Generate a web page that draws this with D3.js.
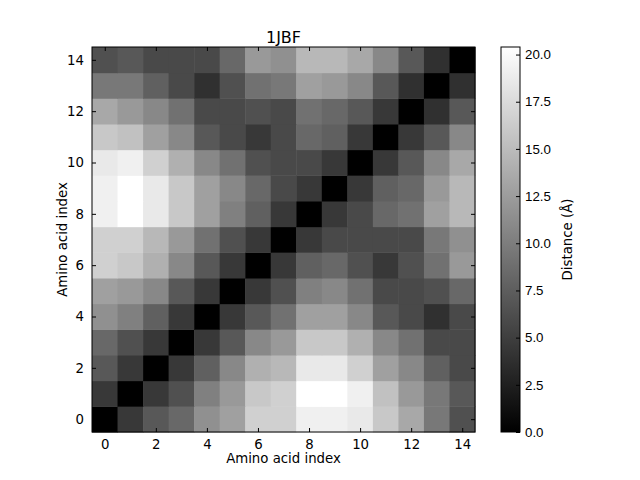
<!DOCTYPE html>
<html><head><meta charset="utf-8">
<script src="https://cdn.jsdelivr.net/npm/d3@7"></script>
<style>body{margin:0;background:#fff}svg{font-family:"DejaVu Sans",sans-serif}</style>
</head><body>
<svg id="c" width="640" height="480"></svg>
<script>
const title = "1JBF";
const indices = d3.range(15);
const xTicks = [0,2,4,6,8,10,12,14];
const yTicks = [0,2,4,6,8,10,12,14];
const cbTicks = [0,2.5,5,7.5,10,12.5,15,17.5,20];
const distMatrix = [
[0,4.5,7.0,8.3,11.5,12.8,16.6,16.6,19.2,19.2,18.6,16.0,13.4,9.6,6.4],
[4.5,0,4.5,6.4,10.2,12.2,16.0,16.6,20.4,20.4,19.2,15.4,12.2,9.6,7.0],
[7.0,4.5,0,4.5,7.7,10.9,14.1,14.7,18.6,18.6,16.6,12.8,10.9,7.7,5.8],
[8.3,6.4,4.5,0,4.5,7.0,10.9,12.2,16.0,16.0,14.1,10.9,9.0,5.8,5.8],
[11.5,10.2,7.7,4.5,0,4.5,7.0,9.0,12.8,12.8,10.9,7.0,5.8,3.8,5.8],
[12.8,12.2,10.9,7.0,4.5,0,4.5,6.4,10.2,10.9,9.0,5.8,5.8,6.4,8.3],
[16.6,16.0,14.1,10.9,7.0,4.5,0,4.5,7.7,8.3,6.4,4.5,6.4,9.0,12.2],
[16.6,16.6,14.7,12.2,9.0,6.4,4.5,0,4.5,5.8,5.8,5.8,5.8,9.6,11.5],
[19.2,20.4,18.6,16.0,12.8,10.2,7.7,4.5,0,4.5,5.8,8.3,9.0,12.8,14.7],
[19.2,20.4,18.6,16.0,12.8,10.9,8.3,5.8,4.5,0,4.5,7.7,8.3,12.2,14.7],
[18.6,19.2,16.6,14.1,10.9,9.0,6.4,5.8,5.8,4.5,0,4.5,7.0,10.9,13.4],
[16.0,15.4,12.8,10.9,7.0,5.8,4.5,5.8,8.3,7.7,4.5,0,4.5,7.0,10.9],
[13.4,12.2,10.9,9.0,5.8,5.8,6.4,5.8,9.0,8.3,7.0,4.5,0,3.8,7.0],
[9.6,9.6,7.7,5.8,3.8,6.4,9.0,9.6,12.8,12.2,10.9,7.0,3.8,0,3.8],
[6.4,7.0,5.8,5.8,5.8,8.3,12.2,11.5,14.7,14.7,13.4,10.9,7.0,3.8,0]
];

const svg = d3.select("#c");
const L=92, R=475, T=47, B=432;
const x = d3.scaleBand().domain(indices).range([L,R]).padding(0);
const y = d3.scaleBand().domain(indices).range([B,T]).padding(0);
const xl = d3.scaleLinear().domain([-0.5,14.5]).range([L,R]);
const yl = d3.scaleLinear().domain([-0.5,14.5]).range([B,T]);
const vmax = d3.max(distMatrix.flat());
const gray = d3.scaleLinear().domain([0,vmax]).range(["#000","#fff"]);

const cells = [];
distMatrix.forEach((row,i)=>row.forEach((v,j)=>cells.push({i,j,v})));
svg.append("g").selectAll("rect").data(cells).join("rect")
  .attr("x",d=>x(d.j)).attr("y",d=>y(d.i))
  .attr("width",x.bandwidth()+0.5).attr("height",y.bandwidth()+0.5)
  .attr("fill",d=>gray(d.v));

const fs = 13.3;
// axes
const ax = svg.append("g").attr("transform",`translate(0,${B})`)
  .call(d3.axisBottom(xl).tickValues(xTicks).tickSizeInner(-4).tickSizeOuter(0).tickPadding(8).tickFormat(d3.format("d")));
const axT = svg.append("g").attr("transform",`translate(0,${T})`)
  .call(d3.axisTop(xl).tickValues(xTicks).tickSizeInner(-4).tickSizeOuter(0).tickFormat(""));
const ay = svg.append("g").attr("transform",`translate(${L},0)`)
  .call(d3.axisLeft(yl).tickValues(yTicks).tickSizeInner(-4).tickSizeOuter(0).tickPadding(8).tickFormat(d3.format("d")));
const ayR = svg.append("g").attr("transform",`translate(${R},0)`)
  .call(d3.axisRight(yl).tickValues(yTicks).tickSizeInner(-4).tickSizeOuter(0).tickFormat(""));
[ax,axT,ay,ayR].forEach(g=>{g.select(".domain").remove();g.selectAll("text").attr("font-size",fs).attr("fill","#000").attr("font-family","DejaVu Sans");g.selectAll("line").attr("stroke","#000");});
svg.append("rect").attr("x",L).attr("y",T).attr("width",R-L).attr("height",B-T).attr("fill","none").attr("stroke","#000").attr("stroke-width",1);

svg.append("text").attr("x",(L+R)/2).attr("y",43).attr("text-anchor","middle").attr("font-size",16).text(title);
svg.append("text").attr("x",(L+R)/2).attr("y",463).attr("text-anchor","middle").attr("font-size",fs).text("Amino acid index");
svg.append("text").attr("transform",`translate(67,${(T+B)/2}) rotate(-90)`).attr("text-anchor","middle").attr("font-size",fs).text("Amino acid index");

// colorbar
const cbL=501, cbR=520;
const cb = d3.scaleLinear().domain([0,vmax]).range([B,T]);
const defs = svg.append("defs");
const grad = defs.append("linearGradient").attr("id","g").attr("x1",0).attr("y1",1).attr("x2",0).attr("y2",0);
grad.append("stop").attr("offset",0).attr("stop-color",gray(0));
grad.append("stop").attr("offset",1).attr("stop-color",gray(vmax));
svg.append("rect").attr("x",cbL).attr("y",T).attr("width",cbR-cbL).attr("height",B-T).attr("fill","url(#g)");
const ac = svg.append("g").attr("transform",`translate(${cbR},0)`)
  .call(d3.axisRight(cb).tickValues(cbTicks).tickSizeInner(-4).tickSizeOuter(0).tickPadding(5).tickFormat(d3.format(".1f")));
ac.select(".domain").remove();
ac.selectAll("text").attr("font-size",fs).attr("fill","#000");
ac.selectAll("line").attr("stroke","#000");
svg.append("rect").attr("x",cbL).attr("y",T).attr("width",cbR-cbL).attr("height",B-T).attr("fill","none").attr("stroke","#000");
svg.append("text").attr("transform",`translate(572,${(T+B)/2}) rotate(-90)`).attr("text-anchor","middle").attr("font-size",fs).text("Distance (Å)");
</script>
</body></html>
